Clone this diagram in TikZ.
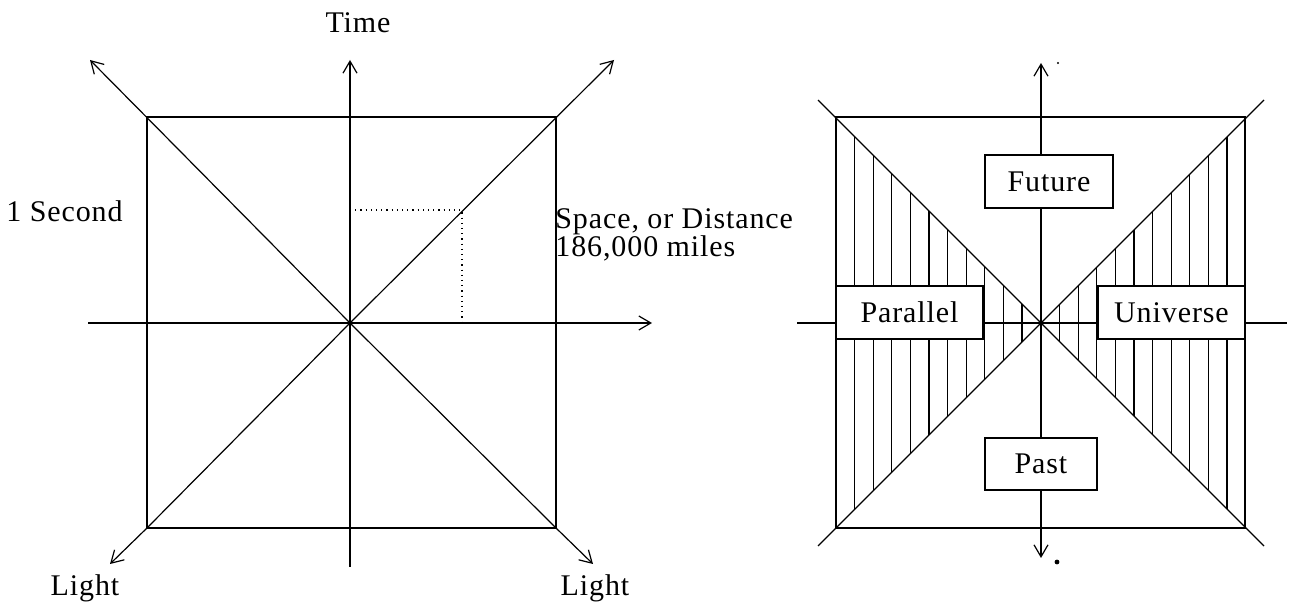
\documentclass[tikz,border=0pt]{standalone}
\usepackage{fontspec}
\setmainfont{Liberation Serif}[LetterSpace=3]
\usetikzlibrary{arrows.meta}
\begin{document}
\begin{tikzpicture}[x=0.5pt,y=-0.5pt,
  ln/.style={line width=0.9pt},
  thn/.style={line width=0.6pt},
  arr/.style={-{Straight Barb[length=6pt,width=7pt,line width=0.6pt]}},
  lbl/.style={font=\fontsize{15}{18}\selectfont, inner sep=0pt},
  bx/.style={draw, line width=0.9pt, fill=white, font=\fontsize{15}{18}\selectfont, inner sep=0pt}]
\useasboundingbox (0,0) rectangle (1302,603);
% ---------- left diagram ----------
\coordinate (O) at (350,323);
\coordinate (tl) at (147,117);
\coordinate (tr) at (556,117);
\coordinate (bl) at (147,528);
\coordinate (br) at (556,528);
\coordinate (vt) at (350,60);
\coordinate (vb) at (350,567);
\coordinate (hl) at (88,323);
\coordinate (hr) at (652,323);
\coordinate (ul) at (90,60);
\coordinate (ur) at (614,60);
\coordinate (ll) at (110,564);
\coordinate (lr) at (593,564);
\draw[ln] (tl) rectangle (br);
\draw[ln,arr] (vb) -- (vt);
\draw[ln,arr] (hl) -- (hr);
\draw[thn,arr] (O) -- (ul);
\draw[thn,arr] (O) -- (ur);
\draw[thn,arr] (O) -- (bl) -- (ll);
\draw[thn,arr] (O) -- (br) -- (lr);
\coordinate (d1) at (350,210);
\coordinate (d2) at (462,210);
\coordinate (d3) at (462,323);
\draw[thn,dotted] (d1) -- (d2) -- (d3);
\fill (O) circle (1.3pt);
\node[lbl] (time) at (358,23) {Time};
\node[lbl,anchor=west] (sec) at (6,211) {1 Second};
\node[lbl,anchor=west] (space) at (555,222) {Space, or Distance};
\node[lbl,anchor=west] (miles) at (555,248) {186,000 miles};
\node[lbl] (light1) at (85,588) {Light};
\node[lbl] (light2) at (595,588) {Light};
% ---------- right diagram ----------
\coordinate (C) at (1041,323);
\coordinate (Rtl) at (836,117);
\coordinate (Rbr) at (1245,528);
\coordinate (e1) at (818,100);
\coordinate (e2) at (1264,546);
\coordinate (e3) at (1264,100);
\coordinate (e4) at (818,546);
\coordinate (Rvt) at (1041,63);
\coordinate (Rvb) at (1041,558);
\coordinate (Rhl) at (797,323);
\coordinate (Rhr) at (1287,323);
\foreach \k in {1,...,10} {
  \draw[thn] ({836+18.6*\k},{118+18.6*\k}) -- ({836+18.6*\k},{528-18.6*\k});
  \draw[thn] ({1041+18.6*\k},{323-18.6*\k}) -- ({1041+18.6*\k},{323+18.6*\k});
}
\draw[ln] (Rtl) rectangle (Rbr);
\draw[thn] (e1) -- (e2);
\draw[thn] (e3) -- (e4);
\draw[ln,arr] (C) -- (Rvt);
\draw[ln,arr] (C) -- (Rvb);
\draw[ln] (Rhl) -- (Rhr);
\fill (C) circle (1.3pt);
\fill (1058,63) circle (0.6pt);
\fill (1057,562) circle (1.2pt);
\node[bx, minimum width=64pt, minimum height=26.5pt] (future) at (1049,181.5) {Future};
\node[bx, minimum width=56pt, minimum height=26pt] (past) at (1041,464) {Past};
\node[bx, minimum width=73.5pt, minimum height=26.5pt] (parallel) at (909.5,312.5) {Parallel};
\node[bx, minimum width=73.5pt, minimum height=26.5pt] (universe) at (1171.5,312.5) {Universe};
\end{tikzpicture}
\end{document}
